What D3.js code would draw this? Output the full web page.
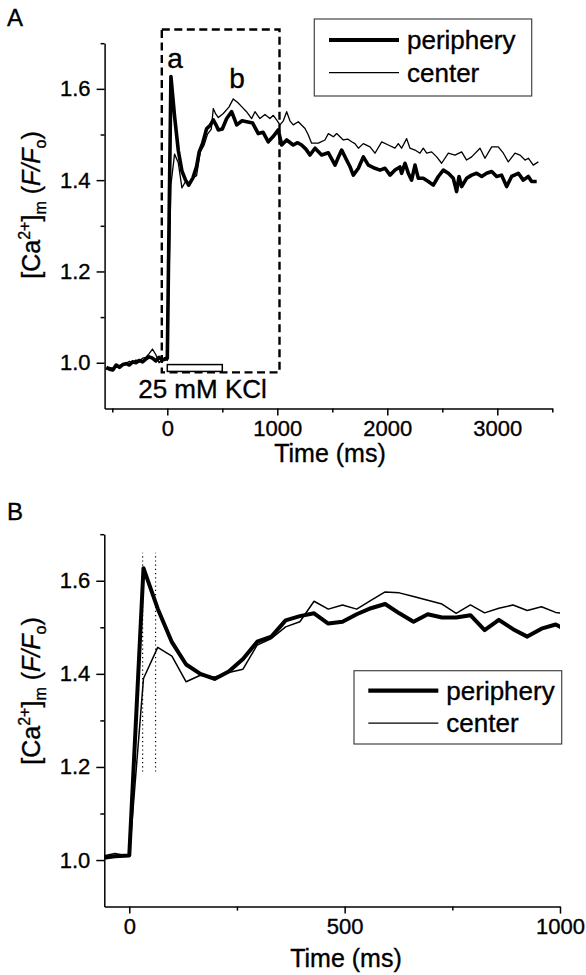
<!DOCTYPE html>
<html>
<head>
<meta charset="utf-8">
<style>
  body { margin:0; background:#fff; }
  svg { font-family: "Liberation Sans", Arial, Helvetica, sans-serif; }
  svg text { stroke:#000; stroke-width:0.35px; }
  .axis path, .axis line { stroke:#000; stroke-width:1.5; }
  .axis text { font-size:22px; fill:#000; font-family: "Liberation Sans", Arial, sans-serif; }
</style>
</head>
<body>
<script src="https://cdn.jsdelivr.net/npm/d3@7"></script>
<script>
// ---- panel A: full trace ----
var timeA_peri = [-555,-525,-495,-465,-435,-405,-375,-345,-315,-285,-255,-225,-195,-165,-135,-105,-75,-45,-15,0,
  33,66,100,133,166,195,233,266,290,320,358,390,418,445,464,500,540,585,631,680,722,776,827,870,918,960,1009,1040,1085,
  1145,1185,1221,1260,1297,1343,1403,1464,1525,1555,1585,1630,1660,1691,1737,1782,1828,1888,1934,1979,2025,2070,2115,
  2130,2161,2191,2221,2252,2282,2327,2373,2418,2464,2509,2555,2600,2630,2652,2676,2721,2767,2812,2858,2903,2949,2994,
  3039,3085,3130,3191,3236,3282,3312,3358];
var valA_peri = [0.99,0.986,0.984,0.995,0.99,0.996,0.998,0.995,1.002,1.0,1.005,1.002,1.008,1.013,1.01,1.004,1.012,1.006,1.008,1.01,
  1.627,1.54,1.465,1.42,1.40,1.389,1.405,1.43,1.462,1.48,1.513,1.52,1.532,1.52,1.51,1.512,1.535,1.55,1.521,1.53,1.528,1.525,1.502,1.505,1.484,1.495,1.51,1.477,1.488,
  1.477,1.482,1.477,1.468,1.455,1.47,1.455,1.46,1.433,1.45,1.466,1.444,1.43,1.411,1.426,1.451,1.433,1.426,1.422,1.426,1.411,1.422,1.429,
  1.415,1.437,1.415,1.400,1.433,1.404,1.404,1.397,1.389,1.408,1.422,1.415,1.404,1.375,1.408,1.386,1.404,1.411,1.415,1.408,1.415,1.419,1.408,
  1.411,1.386,1.408,1.415,1.400,1.408,1.397,1.397];

var timeA_cent = [-555,-525,-495,-465,-435,-405,-375,-345,-315,-285,-255,-225,-195,-165,-135,-105,-75,-45,-15,0,
  33,66,100,133,166,200,233,266,300,333,366,400,418,440,464,509,560,600,640,676,720,767,797,842,888,933,964,1000,1024,1055,1085,1115,
  1145,1191,1252,1280,1312,1373,1433,1464,1510,1540,1600,1640,1676,1706,1737,1782,1843,1888,1949,2009,2070,2100,2130,2176,2206,
  2252,2297,2327,2358,2403,2449,2494,2555,2615,2676,2721,2767,2843,2888,2949,3009,3055,3100,3161,3206,3252,3282,3327,3373];
var valA_cent = [0.985,0.99,0.988,0.99,0.994,0.996,0.999,1.003,1.0,1.006,1.004,1.01,1.012,1.02,1.03,1.018,1.0,1.008,1.012,1.005,
  1.39,1.457,1.438,1.383,1.397,1.393,1.405,1.41,1.462,1.476,1.501,1.512,1.557,1.545,1.537,1.546,1.56,1.578,1.57,1.561,1.55,1.535,1.55,1.535,1.544,1.535,1.542,1.53,1.521,1.53,1.55,1.53,
  1.521,1.528,1.513,1.5,1.481,1.481,1.488,1.502,1.495,1.502,1.488,1.49,1.484,1.48,1.47,1.48,1.473,1.459,1.484,1.477,1.47,1.48,1.47,1.491,1.47,
  1.466,1.459,1.47,1.459,1.462,1.451,1.437,1.459,1.455,1.462,1.444,1.451,1.47,1.448,1.473,1.473,1.459,1.44,1.459,1.455,1.444,1.448,1.433,1.44];

// ---- panel B: first second, expanded ----
var timeB = [-66,-33,0,33,66,99,132,165,198,231,264,297,330,363,396,429,462,495,528,561,594,627,660,693,726,759,792,825,858,891,924,957,990,1023];
var periB = [1.004,1.008,1.01,1.627,1.54,1.468,1.42,1.40,1.389,1.405,1.432,1.469,1.48,1.515,1.524,1.53,1.508,1.512,1.528,1.541,1.55,1.53,1.512,1.528,1.521,1.521,1.526,1.494,1.516,1.496,1.48,1.497,1.506,1.49];
var centB = [1.008,1.014,1.008,1.39,1.457,1.438,1.383,1.397,1.393,1.403,1.41,1.462,1.476,1.501,1.512,1.556,1.539,1.548,1.539,1.558,1.576,1.574,1.566,1.558,1.55,1.53,1.548,1.531,1.541,1.548,1.536,1.544,1.532,1.528];
var markerTimes = [31, 61];     // dotted lines in B
var markerRange = [1.19, 1.66];

var xTicksA = [0,1000,2000,3000], xMinorA = [-500,500,1500,2500,3500];
var xTicksB = [0,500,1000], xMinorB = [250,750];
var yTicks = [1.0,1.2,1.4,1.6], yMinor = [1.1,1.3,1.5,1.7];
var seriesNames = ["periphery","center"];
var kclBar = [0, 500];

var svg = d3.select("body").append("svg").attr("width",586).attr("height",975);
svg.append("rect").attr("width",586).attr("height",975).attr("fill","#fff");

var xA = d3.scaleLinear().domain([-570,3500]).range([104.6,552.3]);
var yA = d3.scaleLinear().domain([0.9,1.7]).range([408.4,43.2]);
var xB = d3.scaleLinear().domain([-58,1000]).range([104.3,560]);
var yB = d3.scaleLinear().domain([0.9,1.7]).range([906.6,534.2]);

function zip(t, v) { return t.map(function(d,i){ return [d, v[i]]; }); }

function axes(x, y, xt, xm) {
  var h = y.range()[0];
  var gx = svg.append("g").attr("class","axis").attr("transform","translate(0,"+h+")")
    .call(d3.axisBottom(x).tickValues(xt).tickSize(7).tickSizeOuter(0).tickFormat(d3.format("d")));
  gx.selectAll("text").attr("y", 12).attr("dy","0.71em");
  svg.append("g").attr("class","axis").attr("transform","translate(0,"+h+")")
    .call(d3.axisBottom(x).tickValues(xm).tickSize(4).tickSizeOuter(0).tickFormat(""))
    .select(".domain").remove();
  var gy = svg.append("g").attr("class","axis").attr("transform","translate("+x.range()[0]+",0)")
    .call(d3.axisLeft(y).tickValues(yTicks).tickSize(8).tickSizeOuter(0).tickFormat(d3.format(".1f")));
  gy.selectAll("text").attr("x", -14);
  svg.append("g").attr("class","axis").attr("transform","translate("+x.range()[0]+",0)")
    .call(d3.axisLeft(y).tickValues(yMinor).tickSize(4).tickSizeOuter(0).tickFormat(""))
    .select(".domain").remove();
}

function yTitle(cx, cy) {
  var t = svg.append("text").attr("transform","translate("+cx+","+cy+") rotate(-90)")
    .attr("text-anchor","middle").style("font-size","25px").style("white-space","pre");
  t.append("tspan").text("[Ca");
  t.append("tspan").attr("dy",-10).style("font-size","16px").text("2+");
  t.append("tspan").attr("dy",10).text("]");
  t.append("tspan").attr("dy",6).style("font-size","16px").text("m");
  t.append("tspan").attr("dy",-6).text(" (");
  t.append("tspan").style("font-style","italic").text("F/F");
  t.append("tspan").attr("dy",6).style("font-size","16px").text("o");
  t.append("tspan").attr("dy",-6).text(")");
}

function legend(x0, y0, w, h, lx, ly, gap, wThick, wThin) {
  svg.append("rect").attr("x",x0).attr("y",y0).attr("width",w).attr("height",h)
    .attr("fill","#fff").attr("stroke","#444").attr("stroke-width",1.2);
  seriesNames.forEach(function(n,i){
    var yy = ly + i*gap;
    svg.append("line").attr("x1",lx).attr("x2",lx+70).attr("y1",yy).attr("y2",yy)
      .attr("stroke","#000").attr("stroke-width", i==0 ? wThick : wThin);
    svg.append("text").attr("x",lx+78).attr("y",yy+9).style("font-size","26px").text(n);
  });
}

// ---------- Panel A ----------
svg.append("text").attr("x",7).attr("y",26).style("font-size","24px").text("A");
axes(xA, yA, xTicksA, xMinorA);
var lineA = d3.line().x(function(d){return xA(d[0]);}).y(function(d){return yA(d[1]);});
svg.append("path").datum(zip(timeA_cent,valA_cent)).attr("d",lineA).attr("fill","none")
  .attr("stroke","#000").attr("stroke-width",1.3).attr("stroke-linejoin","round");
svg.append("path").datum(zip(timeA_peri,valA_peri)).attr("d",lineA).attr("fill","none")
  .attr("stroke","#000").attr("stroke-width",3.6).attr("stroke-linejoin","round");

// dashed box around first second
svg.append("rect").attr("x",xA(-50)).attr("y",yA(1.73))
  .attr("width",xA(1020)-xA(-50)).attr("height",yA(0.979)-yA(1.73))
  .attr("fill","none").attr("stroke","#000").attr("stroke-width",2.4).attr("stroke-dasharray","8,4.5");
// KCl application bar
svg.append("rect").attr("x",xA(kclBar[0])).attr("y",yA(0.996))
  .attr("width",xA(kclBar[1])-xA(kclBar[0])).attr("height",yA(0.981)-yA(0.996))
  .attr("fill","#fff").attr("stroke","#000").attr("stroke-width",1.5);
svg.append("text").attr("x",xA(320)).attr("y",yA(0.923)).attr("text-anchor","middle")
  .style("font-size","26px").text("25 mM KCl");
svg.append("text").attr("x",xA(70)).attr("y",yA(1.646)).attr("text-anchor","middle").style("font-size","28px").text("a");
svg.append("text").attr("x",xA(634)).attr("y",yA(1.602)).attr("text-anchor","middle").style("font-size","28px").text("b");

legend(314.3, 19, 217.4, 77, 329, 40, 32.7, 4, 1.3);
svg.append("text").attr("x",330).attr("y",462).attr("text-anchor","middle").style("font-size","25px").text("Time (ms)");
yTitle(40, 205);

// ---------- Panel B ----------
svg.append("text").attr("x",7).attr("y",520).style("font-size","24px").text("B");
axes(xB, yB, xTicksB, xMinorB);
svg.append("clipPath").attr("id","clipB").append("rect")
  .attr("x",xB.range()[0]).attr("y",yB.range()[1]).attr("width",xB.range()[1]-xB.range()[0]).attr("height",yB.range()[0]-yB.range()[1]);
var lineB = d3.line().x(function(d){return xB(d[0]);}).y(function(d){return yB(d[1]);});
var gB = svg.append("g").attr("clip-path","url(#clipB)");
markerTimes.forEach(function(t){
  gB.append("line").attr("x1",xB(t)).attr("x2",xB(t)).attr("y1",yB(markerRange[0])).attr("y2",yB(markerRange[1]))
    .attr("stroke","#000").attr("stroke-width",1.2).attr("stroke-dasharray","1.2,3");
});
gB.append("path").datum(zip(timeB,centB)).attr("d",lineB).attr("fill","none")
  .attr("stroke","#000").attr("stroke-width",1.5).attr("stroke-linejoin","round");
gB.append("path").datum(zip(timeB,periB)).attr("d",lineB).attr("fill","none")
  .attr("stroke","#000").attr("stroke-width",4).attr("stroke-linejoin","round");

legend(354, 670.7, 207.7, 73.3, 368.3, 690.7, 32.5, 4.2, 1.3);
svg.append("text").attr("x",346).attr("y",967).attr("text-anchor","middle").style("font-size","25px").text("Time (ms)");
yTitle(40, 691);
</script>
</body>
</html>
